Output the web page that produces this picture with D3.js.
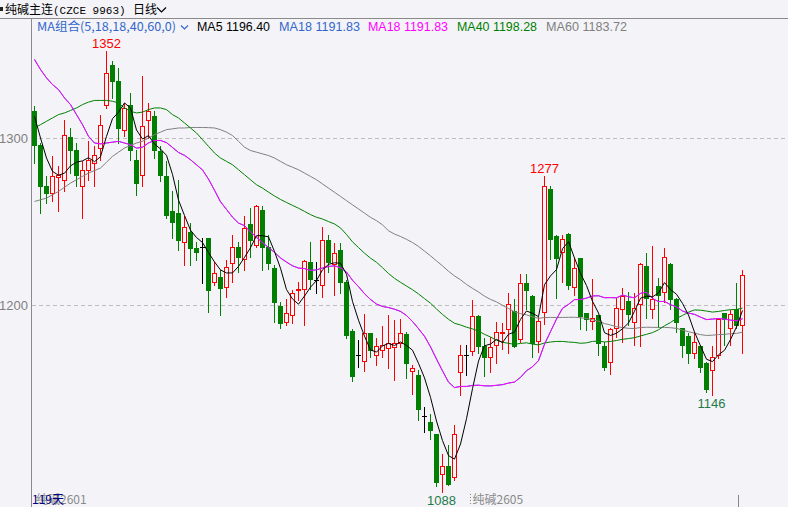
<!DOCTYPE html>
<html><head><meta charset="utf-8">
<script src="https://cdn.jsdelivr.net/npm/d3@7"></script>
<style>html,body{margin:0;padding:0;background:#f4f4f8;}svg{display:block}</style>
</head><body><svg id="c" width="788" height="507"></svg>
<script>
// ---- data ----
const opens = [1316,1296,1271,1267,1276.6,1275,1300.6,1293,1271,1281,1285,1294,1320,1344,1334,1305,1320,1287,1278,1311,
1313,1292,1277,1256,1255,1238,1244,1234,1235,1240,1214,1217,1211,1225,1235,1227.6,1248.5,1236,1257,1235,
1222,1199.5,1190,1194,1209,1209.6,1225.6,1215,1212,1239,1224.6,1233,1213.6,1184.4,1170,1166.7,1183,1170,1173,1174,
1175,1177,1182.6,1160.5,1158,1133.5,1130,1123,1099,1103.6,1097,1160,1170,1172.7,1193.4,1175.4,1169,1176,1183,1185.4,
1196.4,1179.4,1212.9,1205.4,1178.4,1196,1269.3,1241.3,1232,1242.3,1211,1228,1195,1190.4,1194.2,1175.4,1166,1186,1197.4,1202.4,
1190,1200.6,1223.4,1197.4,1211.4,1208,1224.6,1203.8,1186,1181.4,1171,1175.4,1165,1161,1170,1195,1186,1197.4,1188];
const highs = [1319,1297,1277,1289,1283,1311,1306,1297,1286,1298,1295,1314,1352,1346,1342,1321,1327,1293,1337,1321,
1316,1295,1286,1268,1275,1253,1249,1238,1240,1240,1226,1221,1227,1242,1238,1253,1258,1260,1259,1242,
1224,1202,1203.6,1209,1214,1227,1238,1225.6,1247,1242,1237,1237,1215,1185.5,1179,1194.6,1183,1180,1187.7,1194,
1191,1191.4,1184,1164,1161,1139,1135,1123,1111,1116,1128,1176,1176,1203,1194,1180,1181,1190,1189.4,1207,
1203.4,1218.6,1218.6,1206,1193,1277,1271.3,1242,1241.9,1243,1228,1228,1195,1215.4,1194.2,1178,1186,1204,1210,1208,
1207,1225,1231,1235.5,1216,1233.9,1225,1204,1186,1183,1184,1176,1166,1175.4,1192,1195,1197,1213,1221];
const lows = [1285,1255,1261,1262,1256,1268,1279,1271,1252,1275,1271,1287,1318,1324,1297,1301,1287,1266,1271,1300,
1288,1274,1252,1240,1233,1224,1224,1227,1213,1196,1212,1194,1205,1214,1220,1221,1229,1235,1221,1221.6,
1190,1186,1188,1189,1203,1188,1209.6,1207,1205,1220,1206,1207,1180,1154.6,1163,1160.7,1169,1164,1169,1162,
1155,1175,1156,1147,1131,1124,1120,1091.6,1088,1092,1095,1146,1158,1170,1171,1157.5,1160,1165,1173.6,1171,
1175,1178,1197.4,1169,1172,1188.4,1227.3,1204,1214,1209.6,1206,1185.4,1185,1185.4,1170,1160.8,1158.7,1181,1178,1188,
1176,1175.5,1192,1192,1187,1202,1197.8,1184,1169,1165,1168,1160,1148,1146,1168,1176,1176,1186,1171];
const closes = [1296,1271,1267,1277,1277.6,1302,1293,1278,1281,1287,1290,1308,1339,1334,1306,1318,1293,1273,1307,1316,
1293,1278,1254,1250,1239,1247,1234,1232,1235,1209,1219,1210,1223,1235,1228.5,1246,1239,1259,1235,1225,
1202,1189,1195,1207,1209.5,1226.4,1215.4,1215,1239,1226,1231,1214,1182,1157.5,1170,1183,1173,1175.5,1176,1177.4,
1177,1183.4,1165,1162,1138,1133.5,1125,1094,1103.6,1093,1123,1170,1170,1193.4,1175.6,1169,1175,1184,1184,1200.4,
1175.6,1212.9,1209.2,1177,1190.4,1271.3,1239.3,1228,1239.3,1212,1222,1193.4,1191.6,1192,1177,1163,1185.4,1198,1205.4,1194.4,
1198,1224.6,1204,1203.4,1206,1229,1203.8,1190,1176,1171,1178,1162.6,1150,1169,1191.4,1191.4,1194.6,1188,1218];

// moving-average values before enough history is visible
const ma5Head = [1313,1300,1288,1280];
const ma18Head = [1347,1341,1336,1332,1329,1324,1320,1314,1308,1301,1297,1296.5,1297,1297.5,1298,1297,1296];
const ma40Head = [1306,1308,1310,1312,1314,1315,1316.5,1318,1320,1321.5,1322.5,1322.5,1322.5,1322,1321,1318,1316,1315,1315.5,1317,
1318,1318,1317,1314,1312,1309,1306,1303,1299,1295,1291,1288,1286,1284,1281,1278,1275,1272,1270];
const ma60Head = [1262,1263,1264,1266,1268,1270.5,1273,1275,1277,1279,1280.5,1282,1285.5,1289,1291.5,1294,1295.5,1297,1298,1300,
1302,1303.5,1305,1305.5,1306,1306,1306.3,1306.3,1306.3,1306.2,1306,1305,1303.5,1301.5,1298,1294.5,1292.5,1291.5,1290.5,1289.5,
1288,1286,1284,1282.5,1281,1279,1277,1275,1272.5,1270,1267.5,1265,1262.5,1260,1257.5,1255,1252.5,1250.5,1248];

const yTicks = [1200, 1300];
const legendTexts = ["MA5 1196.40","MA18 1191.83","MA18 1191.83","MA40 1198.28","MA60 1183.72"];
const markHigh = [12, 85];
const markLow = [68, 113];
const contractLabels = ["纯碱2601","纯碱2605"];
const contractStart = [0, 71];

// ---- drawing ----
const W = 788, H = 507, BG = "#f4f4f8";
const svg = d3.select("#c");
svg.append("rect").attr("width",W).attr("height",H).attr("fill",BG);

const n = closes.length;
const x = d3.scaleBand().domain(d3.range(n)).range([31.5, 31.5 + 6*n]);
const cx = i => x(i) + x.bandwidth()/2;
const y = d3.scaleLinear().domain([1200,1300]).range([305,138]);

// frame
svg.append("line").attr("x1",0).attr("x2",W).attr("y1",18.5).attr("y2",18.5).attr("stroke","#8a8a8a");
svg.append("line").attr("x1",31.5).attr("x2",31.5).attr("y1",18).attr("y2",H).attr("stroke","#8a8a8a");

// grid + y labels
yTicks.forEach(t=>{
  const yy = Math.round(y(t)) + 0.5;
  svg.append("line").attr("x1",32).attr("x2",W).attr("y1",yy).attr("y2",yy)
    .attr("stroke","#bdbdbd").attr("stroke-dasharray","4,3");
  svg.append("text").attr("x",28).attr("y",yy+4.5).attr("text-anchor","end")
    .attr("font-family","Liberation Sans, Arial, sans-serif").attr("font-size",13)
    .attr("fill","#808080").text(t);
});

// candles
const g = svg.append("g");
for (let i=0;i<n;i++){
  const o=opens[i], c=closes[i], h=highs[i], l=lows[i];
  const xc = Math.floor(cx(i)) + 0.5;
  const up = c>o, flat = c===o;
  const col = flat ? "#000000" : (up ? "#ff0000" : "#007f00");
  const yh = Math.round(y(h)), yl = Math.round(y(l));
  g.append("line").attr("x1",xc).attr("x2",xc).attr("y1",yh).attr("y2",yl+1).attr("stroke",col);
  if (flat){
    const yy = Math.round(y(o))+0.5;
    g.append("line").attr("x1",xc-2.5).attr("x2",xc+2.5).attr("y1",yy).attr("y2",yy).attr("stroke",col);
  } else {
    const top = Math.round(y(Math.max(o,c))), bot = Math.round(y(Math.min(o,c)));
    if (up){
      g.append("rect").attr("x",xc-2).attr("y",top+0.5).attr("width",4).attr("height",Math.max(bot-top,1))
        .attr("fill",BG).attr("stroke",col);
    } else {
      g.append("rect").attr("x",xc-2.5).attr("y",top).attr("width",5).attr("height",Math.max(bot-top+1,1))
        .attr("fill",col);
    }
  }
}

// moving averages
function ma(period, head){
  return closes.map((c,i)=> i < period-1 ? head[i] : d3.mean(closes.slice(i-period+1,i+1)));
}
const line = d3.line().x((d,i)=>cx(i)).y(d=>y(d));
const mas = [
  {v: ma(60, ma60Head), c:"#808080"},
  {v: ma(40, ma40Head), c:"#008000"},
  {v: ma(18, ma18Head), c:"#3366cc"},
  {v: ma(18, ma18Head), c:"#ff00ff"},
  {v: ma(5, ma5Head), c:"#000000"}
];
mas.forEach(m=>{
  svg.append("path").attr("d",line(m.v)).attr("fill","none").attr("stroke",m.c).attr("stroke-width",1);
});

// extreme labels
const numFont = "Liberation Sans, Arial, sans-serif";
markHigh.forEach(i=>{
  svg.append("text").attr("x",cx(i)).attr("y",y(highs[i])-3).attr("text-anchor","middle")
    .attr("font-family",numFont).attr("font-size",13).attr("fill","#ff0000").text(Math.round(highs[i]));
});
markLow.forEach(i=>{
  svg.append("text").attr("x",cx(i)-1).attr("y",y(lows[i])+13).attr("text-anchor","middle")
    .attr("font-family",numFont).attr("font-size",13).attr("fill","#1f7a4a").text(Math.round(lows[i]));
});

// header
svg.append("rect").attr("x",0).attr("y",7).attr("width",3).attr("height",4).attr("fill","#222");
const title = svg.append("text").attr("x",5).attr("y",14).attr("font-size",12).attr("fill","#000");
title.append("tspan").attr("font-family","Noto Sans CJK SC, sans-serif").text("纯碱主连");
title.append("tspan").attr("font-family","Liberation Mono, monospace").attr("font-size",11).text("(CZCE 9963)");
svg.append("text").attr("x",133).attr("y",14).attr("font-family","Noto Sans CJK SC, sans-serif")
  .attr("font-size",12).attr("fill","#000").text("日线");
svg.append("path").attr("d","M157,7.5 L161.5,12 L166,7.5").attr("fill","none").attr("stroke","#000").attr("stroke-width",1.2);

// legend
const legFont = "Liberation Sans, Arial, sans-serif";
svg.append("text").attr("x",37).attr("y",31).attr("font-family","Noto Sans CJK SC, Liberation Sans, sans-serif")
  .attr("font-size",12).attr("fill","#3366cc").attr("textLength",139).attr("lengthAdjust","spacingAndGlyphs")
  .text("MA组合(5,18,18,40,60,0)");
svg.append("path").attr("d","M181,25.5 L184.5,29 L188,25.5").attr("fill","none").attr("stroke","#3366cc").attr("stroke-width",1.2);
const legX = [197, 279, 368, 457, 546];
const legW = [73, 81, 80, 80, 81];
const legC = ["#000000","#3366cc","#ff00ff","#008000","#808080"];
legendTexts.forEach((t,k)=>{
  svg.append("text").attr("x",legX[k]).attr("y",31).attr("font-family",legFont).attr("font-size",12.5)
    .attr("fill",legC[k]).attr("textLength",legW[k]).attr("lengthAdjust","spacingAndGlyphs").text(t);
});

// bottom labels
const botFont = "Noto Sans CJK SC, Liberation Sans, sans-serif";
svg.append("text").attr("x",36).attr("y",504).attr("font-family",botFont).attr("font-size",12)
  .attr("fill","#8a8a8a").text(contractLabels[0]);
svg.append("text").attr("x",32).attr("y",504).attr("font-family",botFont).attr("font-size",12)
  .attr("fill","#000080").text(n + "天");
const sx = Math.round(x(contractStart[1]) + 12) + 0.5;
svg.append("line").attr("x1",sx).attr("x2",sx).attr("y1",494).attr("y2",505).attr("stroke","#888").attr("stroke-dasharray","1,2");
svg.append("text").attr("x",sx+2).attr("y",504).attr("font-family",botFont).attr("font-size",12)
  .attr("fill","#8a8a8a").text(contractLabels[1]);
svg.append("line").attr("x1",738.5).attr("x2",738.5).attr("y1",495).attr("y2",H).attr("stroke","#888");
</script></body></html>
